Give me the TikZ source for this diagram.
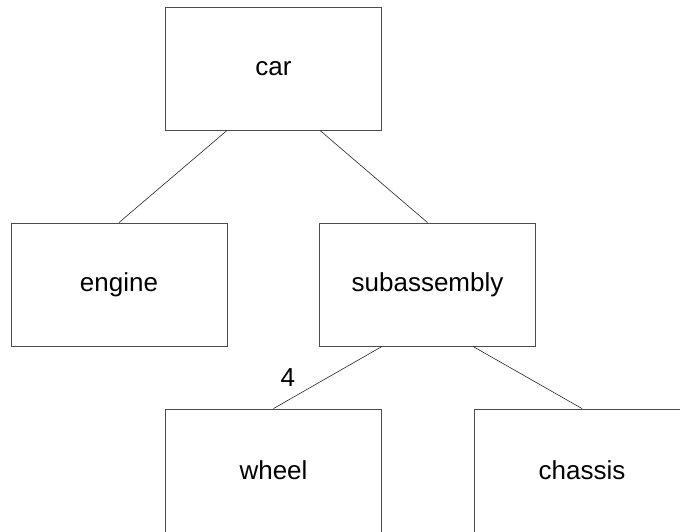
\documentclass[tikz,border=0pt]{standalone}
\usepackage{fontspec}
\setmainfont{Liberation Sans}
\begin{document}
\begin{tikzpicture}[x=1pt,y=-1pt,
  box/.style={draw=black!70,line width=0.9pt,minimum width=216pt,minimum height=123pt,inner sep=0pt,font=\fontsize{26}{30}\selectfont},
  link/.style={draw=black!85,line width=0.6pt},
  lbl/.style={font=\fontsize{26}{30}\selectfont,inner sep=0pt}]
\useasboundingbox (0,0) rectangle (680,531);
\clip (0,0) rectangle (680,531);
\node[box] (car) at (273.5,68.5) {car};
\node[box] (engine) at (119,284.5) {engine};
\node[box] (sub) at (427.5,284.5) {subassembly};
\node[box] (wheel) at (273.5,470.5) {wheel};
\node[box] (chassis) at (582,470.5) {chassis};
\draw[link] ([xshift=-46.5pt]car.south) -- (engine.north);
\draw[link] ([xshift=46.5pt]car.south) -- (sub.north);
\draw[link] ([xshift=-45.5pt]sub.south) -- node[lbl,pos=0.5,xshift=-40pt] {4} (wheel.north);
\draw[link] ([xshift=45.5pt]sub.south) -- (chassis.north);
\end{tikzpicture}
\end{document}
